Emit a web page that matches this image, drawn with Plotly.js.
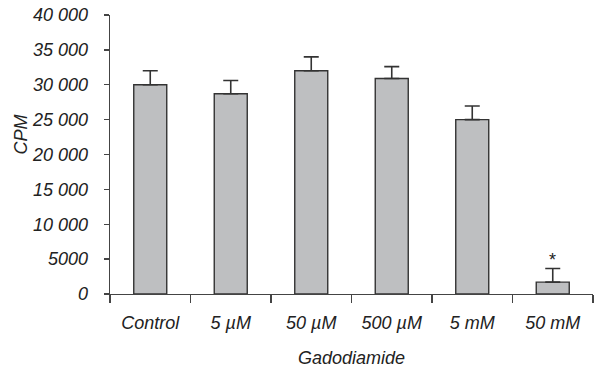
<!DOCTYPE html>
<html>
<head>
<meta charset="utf-8">
<script src="https://cdn.plot.ly/plotly-3.0.1.min.js"></script>
<style>html,body{margin:0;padding:0;background:#fff;}#chart{width:596px;height:371px;}</style>
</head>
<body>
<div id="chart"></div>
<script>
const categories = ["Control", "5 µM", "50 µM", "500 µM", "5 mM", "50 mM"];
const cpmValues = [30000, 28700, 32000, 30900, 25000, 1700];
const cpmErrors = [2000, 1900, 2000, 1700, 1950, 1950];
const significant = [false, false, false, false, false, true];
const yTickValues = [0, 5000, 10000, 15000, 20000, 25000, 30000, 35000, 40000];
const yTickLabels = ["0", "5000", "10 000", "15 000", "20 000", "25 000", "30 000", "35 000", "40 000"];

const FONT = "'Liberation Sans', Arial, sans-serif";
const ink = "#222222";

const trace = {
  type: "bar",
  x: categories,
  y: cpmValues,
  width: 0.41,
  marker: { color: "#bebfc1", line: { color: "#333333", width: 1.4 } },
  error_y: {
    type: "data", symmetric: false, array: cpmErrors,
    arrayminus: cpmErrors.map(() => 0),
    color: "#333333", thickness: 1.6, width: 7.5
  },
  hoverinfo: "none"
};

const annotations = [];
significant.forEach((s, i) => {
  if (s) annotations.push({
    x: categories[i], y: cpmValues[i] + cpmErrors[i], xref: "x", yref: "y",
    text: "*", showarrow: false, yanchor: "bottom", yshift: -3,
    font: { family: FONT, size: 18, color: ink }
  });
});
annotations.push({
  xref: "paper", yref: "paper", x: -0.185, y: 0.57, xanchor: "center", yanchor: "middle",
  text: "<i>CPM</i>", showarrow: false, textangle: -90,
  font: { family: FONT, size: 18, color: ink }
});

const layout = {
  width: 596, height: 371,
  margin: { l: 110, r: 3, t: 15, b: 77 },
  paper_bgcolor: "#ffffff", plot_bgcolor: "#ffffff",
  showlegend: false,
  font: { family: FONT, color: ink },
  xaxis: {
    type: "category", range: [-0.5, 5.5],
    tickmode: "array", tickvals: categories, ticktext: categories.map(c => "<i>" + c + "</i>"),
    tickson: "boundaries", ticks: "outside", ticklen: 8, tickwidth: 1.3, tickcolor: "#444",
    showline: true, linecolor: "#444", linewidth: 1.3,
    showgrid: false, zeroline: false,
    tickfont: { family: FONT, size: 18, color: ink },
    ticklabelstandoff: 12,
    title: { text: "<i>Gadodiamide</i>", font: { family: FONT, size: 18, color: ink }, standoff: 19 }
  },
  yaxis: {
    range: [0, 40000], tickmode: "array", tickvals: yTickValues,
    ticktext: yTickLabels.map(t => "<i>" + t + "</i>"),
    ticks: "outside", ticklen: 5, tickwidth: 1.3, tickcolor: "#444",
    showline: true, linecolor: "#444", linewidth: 1.3,
    showgrid: false, zeroline: false,
    tickfont: { family: FONT, size: 18, color: ink },
    ticklabelstandoff: 12
  },
  annotations: annotations
};

Plotly.newPlot("chart", [trace], layout, { staticPlot: true, displayModeBar: false });
</script>
</body>
</html>
